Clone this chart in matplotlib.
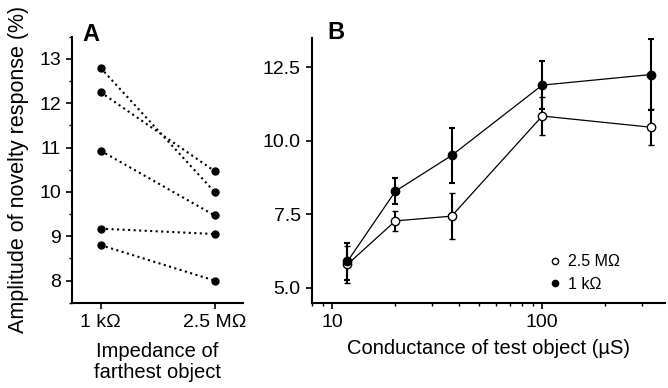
import matplotlib
matplotlib.use("Agg")
from matplotlib import pyplot as plt
from matplotlib.ticker import MultipleLocator, FixedLocator, NullFormatter
from matplotlib.lines import Line2D

plt.rcParams['font.family'] = ['Liberation Sans', 'DejaVu Sans']

# panel A: paired amplitudes, 1 kOhm vs 2.5 MOhm farthest object
imp_labels = ["1 k\u03a9", "2.5 M\u03a9"]
amp_1k = [12.8, 12.25, 10.93, 9.17, 8.8]
amp_25M = [10.0, 10.47, 9.47, 9.05, 8.0]

# panel B: amplitude vs conductance
conductance = [11.8, 20, 37, 100, 330]
mean_1k = [5.9, 8.29, 9.5, 11.89, 12.25]
err_1k = [0.63, 0.43, 0.95, 0.82, 1.2]
mean_25M = [5.8, 7.28, 7.44, 10.84, 10.46]
err_25M = [0.62, 0.35, 0.78, 0.66, 0.62]

fig = plt.figure(figsize=(6.68, 3.88), dpi=100)
axA = fig.add_axes([0.1078, 0.2198, 0.256, 0.6856])
axB = fig.add_axes([0.467, 0.2198, 0.528, 0.683])

for ax in (axA, axB):
    for s in ("top", "right"):
        ax.spines[s].set_visible(False)
    for s in ("left", "bottom"):
        ax.spines[s].set_linewidth(1.5)
    ax.tick_params(which="major", direction="out", width=1.2, length=4, labelsize=14, pad=4)
    ax.tick_params(which="minor", direction="out", width=1.0, length=2.5)

# A
for a, b in zip(amp_1k, amp_25M):
    axA.plot([0, 1], [a, b], ls=":", color="black", lw=1.5, marker="o", ms=5)
axA.set_xlim(-0.25, 1.25)
axA.set_ylim(7.5, 13.5)
axA.set_xticks([0, 1])
axA.set_xticklabels(imp_labels)
axA.yaxis.set_major_locator(MultipleLocator(1))
axA.yaxis.set_minor_locator(MultipleLocator(0.5))
axA.set_ylabel("Amplitude of novelty response (%)", fontsize=15.5, labelpad=7)
axA.set_xlabel("Impedance of\nfarthest object", fontsize=14.5, labelpad=8, linespacing=1.15)
axA.text(0.06, 1.01, "A", transform=axA.transAxes, fontsize=17, fontweight="bold",
         va="center", ha="left")

# B
axB.errorbar(conductance, mean_25M, yerr=err_25M, color="black", lw=0.9, elinewidth=1.5,
             capsize=2.5, capthick=1.5, marker="o", ms=6, mfc="white", mec="black",
             mew=1.0, label="2.5 M\u03a9", zorder=3)
axB.errorbar(conductance, mean_1k, yerr=err_1k, color="black", lw=0.9, elinewidth=1.5,
             capsize=2.5, capthick=1.5, marker="o", ms=6, mfc="black", mec="black",
             label="1 k\u03a9", zorder=3)
axB.set_xscale("log")
axB.set_xlim(8.0, 383)
axB.set_ylim(4.5, 13.5)
axB.set_xticks([10, 100])
axB.set_xticklabels(["10", "100"])
axB.xaxis.set_minor_locator(FixedLocator([8, 9] + list(range(20, 100, 10)) + [200, 300]))
axB.xaxis.set_minor_formatter(NullFormatter())
axB.set_yticks([5.0, 7.5, 10.0, 12.5])
axB.set_yticklabels(["5.0", "7.5", "10.0", "12.5"])
axB.set_xlabel("Conductance of test object (\u00b5S)", fontsize=14.5, labelpad=6)
axB.text(0.045, 1.018, "B", transform=axB.transAxes, fontsize=17, fontweight="bold",
         va="center", ha="left")

handles = [Line2D([], [], ls="none", marker="o", ms=4.5, mfc="white", mec="black"),
           Line2D([], [], ls="none", marker="o", ms=4.5, mfc="black", mec="black")]
axB.legend(handles, ["2.5 M\u03a9", "1 k\u03a9"], loc="lower left", bbox_to_anchor=(0.63, -0.012),
           frameon=False, fontsize=11.5, handlelength=0.8, handletextpad=0.4, labelspacing=0.45)

fig.savefig("out.png", dpi=100)
